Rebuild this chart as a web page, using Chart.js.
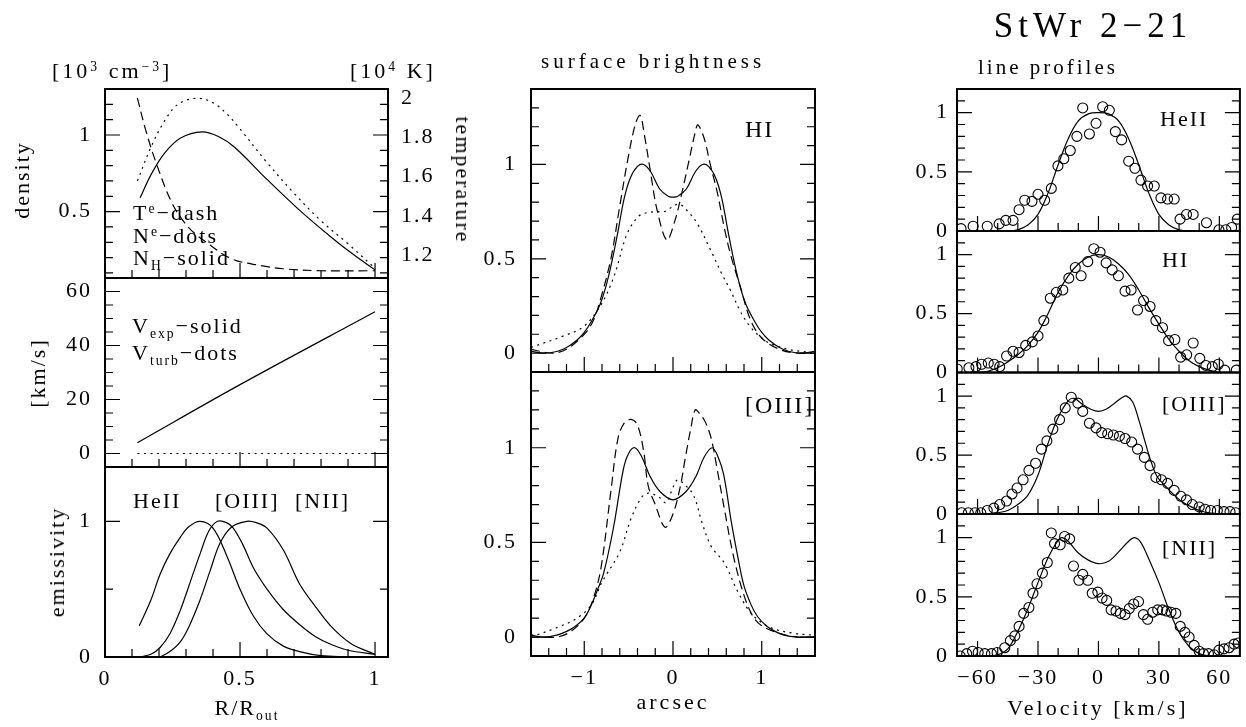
<!DOCTYPE html>
<html>
<head>
<meta charset="utf-8">
<script src="https://cdn.jsdelivr.net/npm/chart.js@4/dist/chart.umd.min.js"></script>
<style>
  html, body { margin: 0; padding: 0; background: #fff; }
  #fig { position: relative; width: 1246px; height: 727px; overflow: hidden; }
  #fig canvas { position: absolute; left: 0; top: 0; }
  .t { position: absolute; white-space: nowrap; font-family: "Liberation Serif", "DejaVu Serif", serif; color: #000; line-height: 1; }
  .t sub, .t sup { font-size: 0.62em; line-height: 0; }
  .t sub { vertical-align: -0.35em; }
  .t sup { vertical-align: 0.55em; }
  .t .hi { font-size: 0.62em; vertical-align: 0.5em; }
</style>
</head>
<body>
<div id="fig"></div>
<script>
const SERIF = '"Liberation Serif", "DejaVu Serif", serif';
const W = 1246, H = 727;

// ---- left column: radial structure (R/R_out) ----
const rNH = [0.13, 0.17, 0.22, 0.28, 0.36, 0.42, 0.48, 0.6, 0.72, 0.84, 0.92, 1.0];
const densNH = [0.59, 0.74, 0.88, 0.98, 1.02, 0.99, 0.92, 0.71, 0.51, 0.33, 0.22, 0.12];
const rNe = [0.12, 0.17, 0.22, 0.27, 0.34, 0.40, 0.45, 0.5, 0.6, 0.7, 0.8, 0.9, 1.0];
const densNe = [0.70, 0.92, 1.09, 1.20, 1.24, 1.21, 1.14, 1.04, 0.82, 0.62, 0.44, 0.29, 0.13];
const rTe = [0.12, 0.15, 0.19, 0.25, 0.31, 0.38, 0.47, 0.57, 0.66, 0.8, 1.0];
const tempTe = [2.0, 1.84, 1.667, 1.46, 1.34, 1.26, 1.18, 1.148, 1.13, 1.12, 1.12];

const rVel = [0.12, 0.5, 1.0];
const vExp = [4, 25.5, 52.5];
const vTurb = [0, 0, 0];

const rHeII = [0.127, 0.17, 0.204, 0.24, 0.278, 0.31, 0.352, 0.40, 0.45, 0.5, 0.55, 0.6, 0.66, 0.72, 0.8, 0.9];
const emHeII = [0.23, 0.42, 0.61, 0.76, 0.88, 0.96, 1.0, 0.95, 0.75, 0.50, 0.30, 0.17, 0.08, 0.04, 0.01, 0.0];
const rOIII = [0.127, 0.17, 0.204, 0.24, 0.278, 0.31, 0.352, 0.385, 0.417, 0.45, 0.475, 0.51, 0.549, 0.6, 0.66, 0.72, 0.78, 0.84, 0.9, 1.0];
const emOIII = [0.0, 0.02, 0.07, 0.17, 0.34, 0.52, 0.76, 0.93, 1.0, 0.99, 0.95, 0.83, 0.66, 0.50, 0.35, 0.24, 0.15, 0.09, 0.05, 0.02];
const rNII = [0.204, 0.24, 0.278, 0.31, 0.352, 0.39, 0.426, 0.47, 0.525, 0.56, 0.6, 0.66, 0.72, 0.78, 0.84, 0.91, 1.0];
const emNII = [0.0, 0.04, 0.11, 0.22, 0.42, 0.64, 0.84, 0.96, 1.0, 0.99, 0.95, 0.79, 0.54, 0.37, 0.22, 0.10, 0.02];

// ---- middle column: surface brightness (arcsec) ----
const sbHIx = [-1.6, -1.45, -1.3, -1.2, -1.08, -1.0, -0.93, -0.82, -0.73, -0.63, -0.55, -0.48, -0.4, -0.33, -0.25, -0.15, -0.05, 0, 0.05, 0.15, 0.25, 0.33, 0.4, 0.48, 0.55, 0.63, 0.73, 0.82, 0.93, 1.0, 1.08, 1.2, 1.3, 1.45, 1.6];
const sbHIsolid = [0.01, 0.0, 0.01, 0.03, 0.07, 0.11, 0.16, 0.26, 0.40, 0.62, 0.82, 0.93, 0.99, 1.0, 0.96, 0.87, 0.83, 0.827, 0.83, 0.87, 0.96, 1.0, 0.99, 0.93, 0.82, 0.62, 0.40, 0.26, 0.16, 0.11, 0.07, 0.03, 0.01, 0.0, 0.01];
const sbHIdotX = [-1.6, -1.54, -1.24, -1.01, -0.82, -0.67, -0.52, -0.4, -0.33, -0.2, -0.1, 0.06, 0.15, 0.27, 0.42, 0.55, 0.65, 0.76, 0.87, 1.0, 1.1, 1.3, 1.44, 1.6];
const sbHIdot = [0.03, 0.04, 0.09, 0.14, 0.25, 0.40, 0.63, 0.72, 0.74, 0.75, 0.75, 0.79, 0.76, 0.69, 0.55, 0.42, 0.33, 0.22, 0.14, 0.08, 0.05, 0.02, 0.01, 0.0];
const sbHIdashX = [-1.6, -1.5, -1.35, -1.2, -1.0, -0.9, -0.82, -0.7, -0.6, -0.5, -0.42, -0.37, -0.32, -0.25, -0.18, -0.07, 0.02, 0.1, 0.18, 0.25, 0.28, 0.35, 0.42, 0.5, 0.58, 0.65, 0.76, 0.87, 1.0, 1.2, 1.4, 1.6];
const sbHIdash = [0.02, 0.01, 0.0, 0.02, 0.10, 0.17, 0.28, 0.50, 0.78, 1.05, 1.22, 1.26, 1.15, 0.95, 0.76, 0.60, 0.70, 0.85, 1.02, 1.17, 1.21, 1.14, 1.0, 0.85, 0.66, 0.52, 0.35, 0.18, 0.08, 0.02, 0.0, 0.0];

const sbOIIIx = [-1.6, -1.45, -1.31, -1.2, -1.12, -1.0, -0.93, -0.85, -0.78, -0.67, -0.56, -0.5, -0.43, -0.35, -0.26, -0.15, 0, 0.15, 0.26, 0.35, 0.44, 0.5, 0.57, 0.66, 0.74, 0.8, 0.88, 0.95, 1.05, 1.15, 1.25, 1.4, 1.6];
const sbOIIIsolid = [0.01, 0.0, 0.01, 0.03, 0.05, 0.10, 0.16, 0.25, 0.34, 0.58, 0.885, 0.97, 1.0, 0.95, 0.85, 0.77, 0.725, 0.77, 0.85, 0.95, 1.0, 0.96, 0.86, 0.60, 0.40, 0.27, 0.17, 0.11, 0.06, 0.03, 0.01, 0.0, 0.0];
const sbOIIIdotX = [-1.6, -1.55, -1.31, -1.08, -0.92, -0.8, -0.6, -0.47, -0.35, -0.28, -0.16, -0.08, 0.0, 0.05, 0.12, 0.23, 0.33, 0.43, 0.58, 0.73, 0.89, 1.1, 1.36, 1.6];
const sbOIIIdot = [0.01, 0.01, 0.05, 0.10, 0.17, 0.29, 0.45, 0.63, 0.74, 0.76, 0.74, 0.71, 0.79, 0.83, 0.81, 0.75, 0.60, 0.48, 0.39, 0.24, 0.12, 0.05, 0.02, 0.01];
const sbOIIIdashX = [-1.6, -1.45, -1.3, -1.15, -1.0, -0.9, -0.81, -0.7, -0.62, -0.55, -0.47, -0.4, -0.33, -0.28, -0.2, -0.09, 0.0, 0.08, 0.14, 0.2, 0.25, 0.3, 0.36, 0.43, 0.5, 0.57, 0.68, 0.8, 0.9, 1.0, 1.2, 1.4, 1.6];
const sbOIIIdash = [0.0, 0.0, 0.0, 0.03, 0.10, 0.20, 0.37, 0.77, 1.05, 1.13, 1.15, 1.12, 0.98, 0.80, 0.70, 0.58, 0.65, 0.79, 0.95, 1.10, 1.20, 1.18, 1.14, 1.05, 0.88, 0.70, 0.43, 0.22, 0.11, 0.06, 0.02, 0.0, 0.0];

// ---- right column: line profiles (km/s) ----
const velHeII = [-68.2, -62.2, -55.2, -49.3, -46, -42.4, -39.4, -36.6, -33, -30, -26.7, -23.4, -20.1, -17.2, -14, -10.7, -7.8, -4.5, -1.2, 2.1, 5.4, 8.4, 11.5, 15, 18.1, 21.1, 24.4, 27.7, 31, 34.3, 37.6, 40.5, 43.7, 47, 53.6, 59.8, 63.2, 66.1, 68.9];
const obsHeII = [0.02, 0.04, 0.04, 0.06, 0.09, 0.09, 0.18, 0.26, 0.25, 0.31, 0.26, 0.36, 0.55, 0.61, 0.68, 0.80, 1.04, 0.82, 0.91, 1.05, 1.02, 0.84, 0.77, 0.59, 0.53, 0.43, 0.38, 0.38, 0.28, 0.27, 0.27, 0.10, 0.14, 0.14, 0.07, 0.01, 0.01, 0.03, 0.10];
const modVelHeII = [-70, -45, -40, -35, -30, -25, -20, -15, -10, -5, 0, 5, 10, 15, 20, 25, 30, 35, 40, 45, 70];
const modHeII = [0, 0, 0.01, 0.05, 0.14, 0.32, 0.56, 0.78, 0.93, 0.99, 1.0, 0.99, 0.93, 0.78, 0.56, 0.32, 0.14, 0.05, 0.01, 0, 0];

const velHI = [-70.1, -64.3, -60.8, -58, -54.7, -51.8, -49, -45.6, -42.4, -39.4, -36.1, -32.8, -30, -27.1, -23.9, -20.9, -17.7, -14.7, -11.5, -8.6, -5.3, -2.3, 0.8, 3.8, 6.8, 9.9, 13.2, 16.2, 19.4, 22.4, 25.6, 28.5, 31.8, 34.8, 37.9, 40.8, 43.8, 47, 50.3, 53.3, 56.5, 59.5, 62.7, 68.4];
const obsHI = [0.03, 0.04, 0.05, 0.07, 0.08, 0.07, 0.05, 0.14, 0.18, 0.17, 0.23, 0.26, 0.31, 0.44, 0.63, 0.68, 0.70, 0.80, 0.89, 0.82, 0.94, 1.05, 1.02, 0.93, 0.87, 0.82, 0.69, 0.70, 0.53, 0.61, 0.56, 0.44, 0.38, 0.27, 0.28, 0.13, 0.15, 0.25, 0.12, 0.06, 0.05, 0.07, 0.02, 0.02];
const modVelHI = [-70, -60, -55, -50, -45, -40, -35, -30, -25, -20, -15, -10, -5, 0, 5, 10, 15, 20, 25, 30, 35, 40, 45, 50, 55, 60, 70];
const modHI = [0, 0, 0.01, 0.04, 0.09, 0.15, 0.23, 0.34, 0.50, 0.68, 0.82, 0.92, 0.98, 1.0, 0.98, 0.92, 0.83, 0.70, 0.55, 0.41, 0.28, 0.18, 0.10, 0.05, 0.02, 0, 0];

const velOIII = [-67.9, -64.6, -61.3, -58.4, -55.2, -51.9, -49, -45.6, -42.9, -40.4, -37.4, -34.5, -31.2, -28.3, -25.6, -22.6, -19.3, -16.5, -13.5, -10.2, -7.8, -4.5, -1.2, 1.6, 4.6, 7.4, 10.4, 13.2, 16.5, 19.4, 22.8, 25.6, 28.5, 31.3, 34.3, 37.6, 40.9, 43.7, 46.6, 50, 52.9, 55.7, 59, 62.3, 65.3, 68.1];
const obsOIII = [0.01, 0.01, 0.01, 0.01, 0.03, 0.05, 0.08, 0.11, 0.17, 0.22, 0.29, 0.37, 0.43, 0.55, 0.62, 0.72, 0.80, 0.90, 0.99, 0.94, 0.87, 0.77, 0.73, 0.69, 0.68, 0.67, 0.66, 0.64, 0.61, 0.55, 0.48, 0.41, 0.31, 0.29, 0.26, 0.20, 0.15, 0.12, 0.08, 0.06, 0.04, 0.03, 0.03, 0.02, 0.02, 0.01];
const modVelOIII = [-70, -55, -50, -45, -40, -35, -30, -25, -20, -15, -12, -8, -4, 0, 4, 8, 12, 14, 17, 20, 23, 26, 29, 33, 37, 41, 45, 50, 55, 60, 70];
const modOIII = [0, 0, 0.01, 0.03, 0.08, 0.16, 0.33, 0.60, 0.82, 0.96, 0.98, 0.93, 0.89, 0.87, 0.89, 0.94, 0.99, 1.0, 0.95, 0.80, 0.62, 0.45, 0.32, 0.24, 0.17, 0.11, 0.07, 0.03, 0.01, 0, 0];

const velNII = [-68.7, -65.4, -62.5, -59.7, -56.4, -53.1, -50.3, -46.5, -43.7, -41.5, -39.4, -37.1, -34.5, -32.5, -30.5, -27.8, -25.4, -23.4, -21.8, -19, -16.8, -14.3, -12.4, -9.7, -7.8, -5.3, -3.1, -0.3, 1.8, 4.1, 6.3, 8.7, 10.9, 13.2, 15.3, 17.5, 19.9, 22.3, 24.4, 26.9, 29.4, 31.8, 33.8, 36, 38.4, 40.6, 42.9, 45, 47.5, 50, 52.1, 54.6, 57.4, 59.8, 62.3, 64.8, 67.3, 69.4];
const obsNII = [0.0, 0.02, 0.04, 0.03, 0.02, 0.02, 0.03, 0.07, 0.13, 0.17, 0.25, 0.36, 0.41, 0.53, 0.61, 0.70, 0.79, 1.04, 0.95, 0.94, 1.01, 0.99, 0.76, 0.64, 0.69, 0.64, 0.53, 0.54, 0.49, 0.47, 0.39, 0.38, 0.36, 0.35, 0.40, 0.44, 0.46, 0.35, 0.31, 0.37, 0.39, 0.39, 0.38, 0.37, 0.36, 0.25, 0.20, 0.16, 0.09, 0.04, 0.02, 0.02, 0.01, 0.05, 0.06, 0.07, 0.10, 0.11];
const modVelNII = [-70, -55, -50, -45, -40, -35, -30, -25, -20, -18, -15, -10, -5, 0, 5, 10, 15, 18, 21, 25, 30, 35, 40, 45, 50, 55, 70];
const modNII = [0, 0, 0.01, 0.06, 0.21, 0.40, 0.62, 0.83, 0.98, 1.0, 0.97, 0.87, 0.81, 0.78, 0.80, 0.88, 0.97, 1.0, 0.96, 0.82, 0.62, 0.39, 0.20, 0.08, 0.02, 0, 0];

// tick labels
const radiusTicks = [0, 0.5, 1];
const densTicks = [0.5, 1];
const tempTicks = [1.2, 1.4, 1.6, 1.8, 2];
const velTicks = [0, 20, 40, 60];
const emisTicks = [0, 1];
const arcTicks = [-1, 0, 1];
const sbTicks = [0, 0.5, 1];
const profTicks = [0, 0.5, 1];
const kmsTicks = [-60, -30, 0, 30, 60];

const pts = (xs, ys) => xs.map((x, i) => ({ x, y: ys[i] }));
const fmt = v => String(v).replace('-', '\u2212');

function solid(xs, ys, axis) {
  return { data: pts(xs, ys), showLine: true, borderColor: '#000', borderWidth: 1.2, pointRadius: 0, tension: 0.35, yAxisID: axis || 'y' };
}
function dashed(xs, ys, axis) {
  return Object.assign(solid(xs, ys, axis), { borderDash: [9, 5] });
}
function dotted(xs, ys, axis) {
  return Object.assign(solid(xs, ys, axis), { borderDash: [2, 4.5] });
}
function circles(xs, ys) {
  return { data: pts(xs, ys), showLine: false, pointRadius: 5, pointBorderWidth: 1.1, pointBorderColor: '#000', pointBackgroundColor: 'rgba(0,0,0,0)' };
}

// inside tick marks along bottom, left and right edges + frame
function marks(scale, spec) {
  const out = [];
  const n0 = Math.ceil(scale.min / spec.minor - 1e-6), n1 = Math.floor(scale.max / spec.minor + 1e-6);
  for (let n = n0; n <= n1; n++) {
    const v = n * spec.minor;
    const major = spec.major.some(m => Math.abs(m - v) < 1e-6);
    out.push([v, major ? 15 : 8]);
  }
  return out;
}
const framePlugin = {
  id: 'frame',
  beforeDraw(chart) { chart.ctx.letterSpacing = '2px'; },
  afterDatasetsDraw(chart, args, o) {
    const { ctx, chartArea: a } = chart;
    const xs = chart.scales.x, ys = chart.scales.y;
    ctx.save();
    ctx.strokeStyle = '#000';
    ctx.lineWidth = 1.2;
    ctx.beginPath();
    marks(xs, o.x).forEach(([v, len]) => {
      const p = xs.getPixelForValue(v);
      ctx.moveTo(p, a.bottom); ctx.lineTo(p, a.bottom - len);
    });
    marks(ys, o.y).forEach(([v, len]) => {
      const p = ys.getPixelForValue(v);
      ctx.moveTo(a.left, p); ctx.lineTo(a.left + len, p);
      ctx.moveTo(a.right, p); ctx.lineTo(a.right - len, p);
    });
    ctx.stroke();
    ctx.lineWidth = 2;
    ctx.strokeRect(a.left, a.top, a.right - a.left, a.bottom - a.top);
    ctx.restore();
  }
};

const YW = 60, XH = 40;
function axis(min, max, labels, pad, extra) {
  return Object.assign({
    type: 'linear', min, max,
    display: !!labels,
    grid: { display: false, drawTicks: false },
    border: { display: false },
    afterBuildTicks: s => { s.ticks = (labels || []).map(v => ({ value: v })); },
    afterFit: s => {
      if (s.isHorizontal()) s.height = labels ? XH : 0; else s.width = labels ? YW : 0;
      s.paddingLeft = s.paddingRight = s.paddingTop = s.paddingBottom = 0;
    },
    ticks: { color: '#000', font: { family: SERIF, size: 22 }, padding: pad, autoSkip: false, maxRotation: 0, callback: fmt }
  }, extra || {});
}

function panel(rect, xr, yr, datasets, extraScales) {
  const cv = document.createElement('canvas');
  cv.width = W; cv.height = H;
  document.getElementById('fig').appendChild(cv);
  const scales = Object.assign({
    x: axis(xr.min, xr.max, xr.labels, 9, { position: 'bottom' }),
    y: axis(yr.min, yr.max, yr.labels, yr.pad, { position: 'left' })
  }, extraScales || {});
  const hasRight = !!extraScales;
  new Chart(cv, {
    type: 'scatter',
    data: { datasets },
    options: {
      responsive: false, animation: false, events: [],
      layout: { padding: {
        left: rect.l - YW, top: rect.t,
        right: W - rect.r - (hasRight ? YW : 0),
        bottom: H - rect.b - (xr.labels ? XH : 0) } },
      plugins: { legend: { display: false }, tooltip: { enabled: false },
        frame: { x: xr.marks, y: yr.marks } },
      scales
    },
    plugins: [framePlugin]
  });
}

// left column
const xRad = { min: 0, max: 1.048, marks: { minor: 0.1, major: [0, 0.5, 1] } };
panel({ l: 105, t: 89, r: 388, b: 278 }, xRad,
  { min: 0.067, max: 1.30, labels: densTicks, pad: 13, marks: { minor: 0.1, major: [0.5, 1] } },
  [solid(rNH, densNH), dotted(rNe, densNe), dashed(rTe, tempTe, 'yT')],
  { yT: axis(1.083, 2.046, tempTicks, 13, { position: 'right' }) });
panel({ l: 105, t: 278, r: 388, b: 467 }, xRad,
  { min: -5, max: 65, labels: velTicks, pad: 13, marks: { minor: 5, major: [0, 20, 40, 60] } },
  [solid(rVel, vExp), dotted(rVel, vTurb)]);
panel({ l: 105, t: 467, r: 388, b: 657 }, Object.assign({ labels: radiusTicks }, xRad),
  { min: 0, max: 1.4, labels: emisTicks, pad: 13, marks: { minor: 0.5, major: [0, 1] } },
  [solid(rHeII, emHeII), solid(rOIII, emOIII), solid(rNII, emNII)]);

// middle column
const xArc = { min: -1.6, max: 1.6, marks: { minor: 0.2, major: [-1, 0, 1] } };
const ySb = { min: -0.1, max: 1.4, labels: sbTicks, pad: 14, marks: { minor: 0.1, major: [0, 0.5, 1] } };
panel({ l: 531, t: 89, r: 815, b: 372 }, xArc, ySb,
  [solid(sbHIx, sbHIsolid), dotted(sbHIdotX, sbHIdot), dashed(sbHIdashX, sbHIdash)]);
panel({ l: 531, t: 372, r: 815, b: 656 }, Object.assign({ labels: arcTicks }, xArc), ySb,
  [solid(sbOIIIx, sbOIIIsolid), dotted(sbOIIIdotX, sbOIIIdot), dashed(sbOIIIdashX, sbOIIIdash)]);

// right column
const xKms = { min: -70.2, max: 70.2, marks: { minor: 10, major: [-60, -30, 0, 30, 60] } };
const yProf = { min: 0, max: 1.2, labels: profTicks, pad: 8, marks: { minor: 0.1, major: [0, 0.5, 1] } };
panel({ l: 957, t: 89, r: 1241, b: 231 }, xKms, yProf,
  [solid(modVelHeII, modHeII), circles(velHeII, obsHeII)]);
panel({ l: 957, t: 231, r: 1241, b: 372.5 }, xKms, yProf,
  [solid(modVelHI, modHI), circles(velHI, obsHI)]);
panel({ l: 957, t: 372.5, r: 1241, b: 514 }, xKms, yProf,
  [solid(modVelOIII, modOIII), circles(velOIII, obsOIII)]);
panel({ l: 957, t: 514, r: 1241, b: 656 }, Object.assign({ labels: kmsTicks }, xKms), yProf,
  [solid(modVelNII, modNII), circles(velNII, obsNII)]);

// text
function text(html, x, base, o) {
  o = o || {};
  const size = o.size || 22;
  const d = document.createElement('div');
  d.className = 't';
  d.innerHTML = html;
  d.style.fontSize = size + 'px';
  d.style.letterSpacing = (o.ls == null ? 2 : o.ls) + 'px';
  if (o.rot) {
    d.style.left = x + 'px';
    d.style.top = base + 'px';
    d.style.transform = 'translate(-50%,-50%) rotate(' + o.rot + 'deg)';
  } else {
    d.style.left = x + 'px';
    d.style.top = (base - 0.84 * size) + 'px';
    if (o.center) d.style.transform = 'translateX(-50%)';
  }
  document.getElementById('fig').appendChild(d);
}
text('StWr 2\u221221', 1093, 37, { size: 35, ls: 5, center: true });
text('line profiles', 978, 75, { size: 21, ls: 3 });
text('surface brightness', 541, 69, { size: 21, ls: 4 });
text('[10<sup>3</sup> cm<sup>\u22123</sup>]', 52, 78, { ls: 3 });
text('[10<sup>4</sup> K]', 350, 78, { ls: 3 });
text('density', 22, 180, { rot: -90, ls: 2 });
text('temperature', 463, 180, { rot: 90, ls: 2 });
text('T<span class="hi">e</span>\u2212dash', 133, 220);
text('N<span class="hi">e</span>\u2212dots', 133, 243);
text('N<sub>H</sub>\u2212solid', 133, 265);
text('V<sub>exp</sub>\u2212solid', 132, 333);
text('V<sub>turb</sub>\u2212dots', 132, 360);
text('[km/s]', 38, 373, { rot: -90, ls: 2 });
text('emissivity', 57, 562, { rot: -90, ls: 2 });
text('HeII', 133, 508);
text('[OIII]', 215, 508);
text('[NII]', 295, 508);
text('R/R<sub>out</sub>', 247, 715, { center: true });
text('arcsec', 673, 709, { center: true, ls: 3 });
text('Velocity [km/s]', 1098, 715, { center: true, ls: 3 });
text('HI', 745, 137, { size: 24 });
text('[OIII]', 745, 413, { size: 24 });
text('HeII', 1160, 126);
text('HI', 1162, 267);
text('[OIII]', 1162, 411);
text('[NII]', 1162, 555);
</script>
</body>
</html>
